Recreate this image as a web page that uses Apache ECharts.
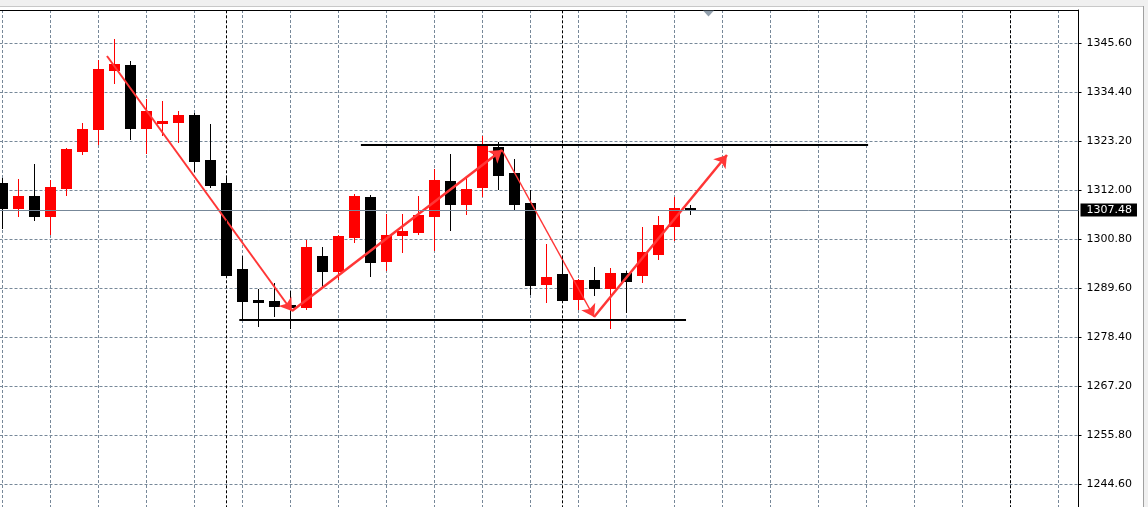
<!DOCTYPE html>
<html><head><meta charset="utf-8">
<script src="https://cdn.jsdelivr.net/npm/echarts@6/dist/echarts.min.js"></script>
<style>html,body{margin:0;padding:0;background:#fff;overflow:hidden}#c{width:1148px;height:507px}</style>
</head><body><div id="c"></div>
<script>
// ---- data ----
const barIndex = [0,1,2,3,4,5,6,7,8,9,10,11,12,13,14,15,16,17,18,19,20,21,22,23,24,25,26,27,28,29,30,31,32,33,34,35,36,37,38,39,40,41,42,43];
const opens  = [1313.67,1308.02,1310.70,1306.19,1312.59,1321.05,1326.08,1339.57,1340.64,1326.31,1327.45,1327.68,1329.21,1318.93,1313.67,1294.01,1286.93,1286.70,1285.78,1285.33,1296.98,1293.55,1301.33,1310.47,1295.84,1301.78,1302.47,1306.13,1314.13,1308.87,1312.75,1321.90,1315.95,1309.10,1290.58,1292.87,1287.15,1291.50,1289.67,1293.10,1292.64,1297.44,1303.84,1307.95];
const closes = [1308.02,1310.70,1306.19,1312.75,1321.44,1326.01,1339.73,1340.87,1326.31,1330.13,1327.84,1329.21,1318.77,1313.28,1292.71,1286.77,1286.47,1285.55,1285.33,1299.04,1293.55,1301.55,1310.70,1295.61,1301.78,1302.70,1306.35,1314.35,1308.87,1312.30,1322.13,1315.50,1308.87,1290.35,1292.18,1286.93,1291.50,1289.67,1293.10,1291.27,1297.90,1304.07,1307.95,1307.48];
const lows   = [1303.45,1306.19,1305.28,1302.08,1310.99,1320.37,1322.65,1336.59,1323.79,1320.59,1324.71,1323.11,1316.48,1312.82,1292.41,1282.58,1281.05,1283.34,1280.59,1284.94,1290.13,1291.73,1300.18,1292.41,1293.78,1297.90,1302.01,1298.35,1302.93,1306.58,1310.70,1312.30,1307.73,1288.30,1286.47,1286.70,1284.87,1288.07,1280.53,1284.18,1291.04,1296.30,1300.64,1306.58];
const highs  = [1314.81,1314.58,1318.01,1314.35,1321.67,1327.38,1341.78,1346.58,1341.55,1332.87,1332.41,1330.13,1329.67,1327.15,1314.81,1296.98,1289.44,1290.81,1288.98,1300.64,1299.04,1301.78,1311.15,1310.93,1306.58,1306.58,1310.70,1316.87,1320.30,1314.81,1324.41,1323.04,1319.15,1312.07,1299.73,1296.98,1291.73,1294.47,1294.24,1293.55,1303.61,1306.13,1310.47,1308.60];
const priceTickLabels = ['1244.60','1255.80','1267.20','1278.40','1289.60','1300.80','1312.00','1323.20','1334.40','1345.60'];
const lastPrice = 1307.48;
const periodSeparators = [14, 35, 63];
const supportLine = [[14.8, 1282.35], [42.72, 1282.35]];
const resistanceLine = [[22.4, 1322.35], [54.1, 1322.35]];
const waveArrows = [
  [[6.53, 1342.70], [18.09, 1284.41]],
  [[18.09, 1284.41], [31.22, 1321.21]],
  [[31.22, 1321.21], [36.97, 1283.04]],
  [[36.97, 1283.04], [45.28, 1320.07]]
];
const chartShiftBar = 44.125;

// ---- scale setup ----
const priceMin = 1233.6, priceMax = 1353.211, tickStep = 11.2;
const arrowWidths = [2, 2.5, 1.5, 2.5];
const GRID = '#778899';

const chart = echarts.init(document.getElementById('c'), null, {renderer: 'canvas'});
chart.setOption({
  animation: false,
  backgroundColor: '#ffffff',
  grid: {left: -45.5, top: 10, width: 1124, height: 523.3, containLabel: false, outerBoundsMode: 'none'},
  xAxis: {
    type: 'value', min: -3, max: 67.25, interval: 3, position: 'top',
    axisLine: {show: true, onZero: false, lineStyle: {color: '#000', width: 1}},
    axisTick: {show: false}, axisLabel: {show: false},
    splitLine: {show: true, showMinLine: false, showMaxLine: false, lineStyle: {color: GRID, type: [3, 2], width: 1}}
  },
  yAxis: [
    {type: 'value', min: priceMin, max: priceMax, show: false, splitLine: {show: false}},
    {
      type: 'value', position: 'right', min: 0, max: priceMax - priceMin, interval: tickStep,
      axisLine: {show: true, onZero: false, lineStyle: {color: '#000', width: 1}},
      axisTick: {show: true, length: 3, lineStyle: {color: '#000'}},
      axisLabel: {
        margin: 8, color: '#000', fontFamily: 'DejaVu Sans', fontSize: 11,
        showMinLabel: false, showMaxLabel: false,
        formatter: function (v) {
          const j = Math.round(v / tickStep);
          if (Math.abs(v - j * tickStep) > 0.01 || j < 1 || j > priceTickLabels.length) return '';
          return priceTickLabels[j - 1];
        }
      },
      splitLine: {show: true, showMinLine: false, showMaxLine: false, lineStyle: {color: GRID, type: [3, 2], width: 1}}
    }
  ],
  series: [
    {
      type: 'custom', xAxisIndex: 0, yAxisIndex: 0, clip: true,
      data: barIndex.map((k, i) => [k, opens[i], closes[i], lows[i], highs[i]]),
      encode: {x: 0, y: [1, 2, 3, 4]},
      renderItem: function (params, api) {
        const x = api.value(0), o = api.value(1), c = api.value(2), l = api.value(3), h = api.value(4);
        const pO = api.coord([x, o]), pC = api.coord([x, c]), pL = api.coord([x, l]), pH = api.coord([x, h]);
        const cx = Math.floor(pO[0]) + 0.5;
        const bull = c > o;
        const color = bull ? '#ff0000' : '#000000';
        const half = api.size([1, 0])[0] * 11 / 32;
        const top = Math.round(Math.min(pO[1], pC[1]));
        const bot = Math.round(Math.max(pO[1], pC[1]));
        return {
          type: 'group',
          children: [
            {type: 'line', shape: {x1: cx, y1: Math.round(pH[1]), x2: cx, y2: Math.round(pL[1]) + 1},
             style: {stroke: color, lineWidth: 1}},
            {type: 'rect', shape: {x: cx - half, y: top, width: half * 2, height: Math.max(1, bot - top + 1)},
             style: {fill: color}}
          ]
        };
      }
    },
    {
      type: 'lines', coordinateSystem: 'cartesian2d', xAxisIndex: 0, yAxisIndex: 0,
      symbol: ['none', 'none'], silent: true,
      lineStyle: {color: '#000', width: 2, opacity: 1, curveness: 0},
      data: [{coords: supportLine}, {coords: resistanceLine}]
    },
    {
      type: 'lines', coordinateSystem: 'cartesian2d', xAxisIndex: 0, yAxisIndex: 0,
      symbol: ['none', 'arrow'], symbolSize: 12, silent: true,
      lineStyle: {color: '#ff3636', width: 2, opacity: 1, curveness: 0},
      data: waveArrows.map((c, i) => ({coords: c, lineStyle: {width: arrowWidths[i]}}))
    },
    {
      type: 'scatter', xAxisIndex: 0, yAxisIndex: 0, clip: false, silent: true,
      data: [[chartShiftBar, priceMax]],
      symbol: 'path://M0,0 L10,0 L5,6 Z', symbolSize: [11, 6], symbolOffset: [0, 3.5],
      itemStyle: {color: GRID},
      markLine: {
        silent: true, symbol: ['none', 'none'], animation: false,
        data: [
          ...periodSeparators.map(v => ({xAxis: v, lineStyle: {color: '#000', type: [3, 2], width: 1}, label: {show: false}})),
          {yAxis: lastPrice, lineStyle: {color: GRID, type: 'solid', width: 1},
           label: {show: true, position: 'end', distance: 2, formatter: '1307.48',
                   backgroundColor: '#000', color: '#fff', fontFamily: 'DejaVu Sans', fontSize: 11,
                   lineHeight: 12, padding: [1, 5, 0, 6]}}
        ]
      }
    }
  ],
  graphic: [
    {type: 'rect', left: 0, top: 0, shape: {width: 1148, height: 6}, style: {fill: '#f0f0f0'}, silent: true},
    {type: 'line', shape: {x1: 0, y1: 6.5, x2: 1148, y2: 6.5}, style: {stroke: '#c8c8c8', lineWidth: 1}, silent: true},
    {type: 'rect', shape: {x: 1144, y: 0, width: 4, height: 507}, style: {fill: '#f0f0f0'}, silent: true},
    {type: 'line', shape: {x1: 1143.5, y1: 6, x2: 1143.5, y2: 507}, style: {stroke: '#a0a0a0', lineWidth: 1}, silent: true}
  ]
});
</script></body></html>
